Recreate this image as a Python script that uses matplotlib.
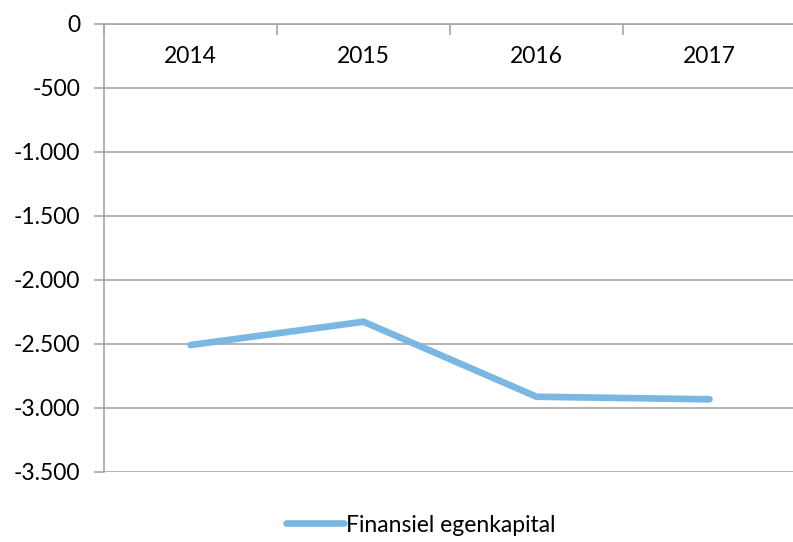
import numpy as np
import matplotlib
matplotlib.use('Agg')
import matplotlib.pyplot as plt
import matplotlib.ticker as ticker

years = ['2014', '2015', '2016', '2017']
egenkapital = [-2508, -2326, -2912, -2932]
series_name = 'Finansiel egenkapital'

plt.rcParams['font.family'] = ['Lato', 'DejaVu Sans']
plt.rcParams['font.size'] = 16.5

fig = plt.figure(figsize=(7.93, 5.42), dpi=100)
ax = fig.add_axes([104/793, 1 - 472/542, 692/793, 448/542])

x = np.arange(len(years)) + 0.5
ax.plot(x, egenkapital, color='#7AB8E3', lw=4.8, solid_capstyle='round',
        solid_joinstyle='miter', label=series_name, zorder=3)

ax.set_xlim(0, len(years))
ax.set_ylim(-3500, 0)
ax.set_yticks(np.arange(-3500, 1, 500))
ax.yaxis.set_major_formatter(ticker.FuncFormatter(
    lambda v, p: '{:,.0f}'.format(v).replace(',', '.')))
ax.grid(axis='y', color='#A6A6A6', lw=1.2)
ax.set_axisbelow(True)

# category axis sits at y=0 (top), labels inside the plot
ax.xaxis.set_ticks_position('top')
ax.set_xticks(np.arange(len(years) + 1))
ax.set_xticklabels([])
ax.set_xticks(x, minor=True)
ax.set_xticklabels(years, minor=True)
ax.tick_params(axis='x', which='major', direction='in', length=8, color='#A6A6A6', width=1.2)
ax.tick_params(axis='x', which='minor', length=0, labeltop=True, labelbottom=False, pad=-31)
ax.tick_params(axis='y', direction='out', length=7, color='#A6A6A6', width=1.2, pad=10)

for s in ['right', 'bottom']:
    ax.spines[s].set_visible(False)
ax.spines['top'].set_color('#A6A6A6')
ax.spines['top'].set_linewidth(1.2)
ax.spines['left'].set_color('#A6A6A6')
ax.spines['left'].set_linewidth(1.2)

fig.legend(loc='center', bbox_to_anchor=(421/793, 1 - 525/542), frameon=False,
           handlelength=2.5, handletextpad=0.1)

fig.savefig('out.png', dpi=100)
